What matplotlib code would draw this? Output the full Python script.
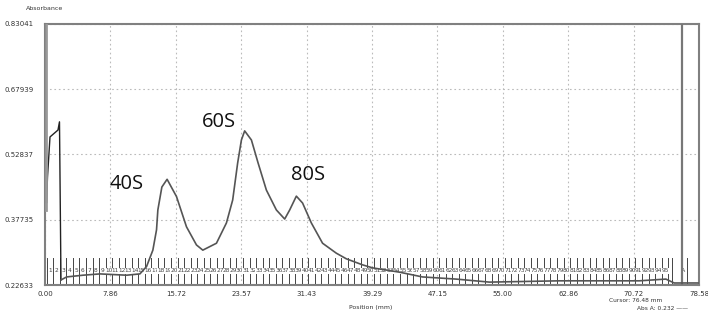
import matplotlib
matplotlib.use('Agg')
import matplotlib.pyplot as plt
import numpy as np

# absorbance trace (position in mm, absorbance)
position = [0.10, 0.18, 0.30, 0.60, 1.56, 1.74, 1.92, 2.60, 4.56, 6.60, 9.80,
            11.4, 12.2, 12.96, 13.4, 13.56, 14.04, 14.67, 15.8, 17.0, 18.2,
            18.96, 20.6, 21.8, 22.55, 23.15, 23.6, 23.99, 24.8, 25.6, 26.6,
            27.8, 28.8, 29.4, 30.2, 30.95, 32.0, 33.35, 35.0, 36.2, 38.15,
            39.35, 42.6, 45.35, 49.4, 53.4, 61.8, 71.4, 74.6, 75.6, 78.46]
absorbance = [0.830, 0.416, 0.476, 0.569, 0.585, 0.604, 0.238, 0.245, 0.249,
              0.252, 0.249, 0.252, 0.269, 0.307, 0.354, 0.400, 0.453, 0.471,
              0.431, 0.361, 0.319, 0.307, 0.323, 0.370, 0.423, 0.509, 0.562,
              0.583, 0.562, 0.509, 0.446, 0.400, 0.379, 0.400, 0.432, 0.416,
              0.370, 0.323, 0.300, 0.287, 0.273, 0.266, 0.256, 0.245, 0.240,
              0.233, 0.236, 0.236, 0.240, 0.231, 0.231]

x_ticks = [0.00, 7.86, 15.72, 23.57, 31.43, 39.29, 47.15, 55.00, 62.86, 70.72, 78.58]
y_ticks = [0.22633, 0.37735, 0.52837, 0.67939, 0.83041]

peak_labels = ['40S', '60S', '80S']
peak_pos = [7.8, 18.9, 29.55]
peak_abs = [0.459, 0.604, 0.480]

fraction_labels = [str(i) for i in range(1, 96)]
cursor_mm = 76.48
cursor_abs = 0.232

fig = plt.figure(figsize=(7.08, 3.15), dpi=100)
ax = fig.add_axes([45 / 708, 30 / 315, 654 / 708, 261 / 315])
ax.set_xlim(0, 78.58)
ax.set_ylim(0.22633, 0.83041)
ymin, ymax = ax.get_ylim()
px_y = (ymax - ymin) / 261  # absorbance per pixel

ax.set_xticks(x_ticks)
ax.set_xticklabels(['%.2f' % v for v in x_ticks])
ax.set_yticks(y_ticks)
ax.set_yticklabels(['%.5f' % v for v in y_ticks])
ax.tick_params(axis='x', length=0, labelsize=5, colors='#333333', pad=4)
ax.tick_params(axis='y', length=0, labelsize=5, colors='#333333', pad=8)
ax.grid(True, linestyle=(0, (1.5, 2.5)), color='#bbbbbb', linewidth=0.8)
for s in ax.spines.values():
    s.set_color('#808080')
    s.set_linewidth(1.5)

# fraction markers along the bottom
frac_w = 0.786
frac_start = 0.207
tick_top = ymin + 27 * px_y
for i in range(len(fraction_labels) + 1):
    xb = frac_start + i * frac_w
    ax.plot([xb, xb], [ymin, tick_top], color='#444444', lw=0.7, zorder=2)
for i, lab in enumerate(fraction_labels):
    xc = frac_start + (i + 0.5) * frac_w
    ax.text(xc, ymin + 14 * px_y, lab, fontsize=4.2, ha='center',
            va='center', color='#444444', zorder=3,
            bbox=dict(facecolor='white', edgecolor='none', pad=0.1))
for xb in [75.3, 77.1]:
    ax.plot([xb, xb], [ymin, tick_top], color='#444444', lw=0.7)
ax.text(cursor_mm + 0.15, ymin + 14 * px_y, 'A', fontsize=4.5,
        ha='center', va='center', color='#444444', zorder=3)

# cursor line
ax.axvline(cursor_mm, color='#777777', lw=1.6, zorder=4)

# trace
ax.plot(position[:7], absorbance[:7], color='#222222', lw=1.0, zorder=5)
ax.plot(position[6:], absorbance[6:], color='#555555', lw=1.2, zorder=5)
ax.plot([0.1, 0.1], [ymax, 0.40], color='#999999', lw=2.0, zorder=5)

for lab, px, py in zip(peak_labels, peak_pos, peak_abs):
    ax.text(px, py, lab, fontsize=14.5, family='Open Sans', color='#111111',
            ha='left', va='center', zorder=6)

fig.text(45 / 708, 1 - 9 / 315, 'Absorbance', fontsize=4.5, ha='center',
         va='center', color='#333333')
fig.text(371 / 708, 1 - 308 / 315, 'Position (mm)', fontsize=4.5, ha='center',
         va='center', color='#333333')
fig.text(662 / 708, 1 - 301 / 315, 'Cursor: %.2f mm' % cursor_mm, fontsize=4.2,
         ha='right', va='center', color='#333333')
fig.text(688 / 708, 1 - 308 / 315, 'Abs A: %.3f \u2014\u2014' % cursor_abs,
         fontsize=4.2, ha='right', va='center', color='#333333')

fig.savefig('out.png', dpi=100)
